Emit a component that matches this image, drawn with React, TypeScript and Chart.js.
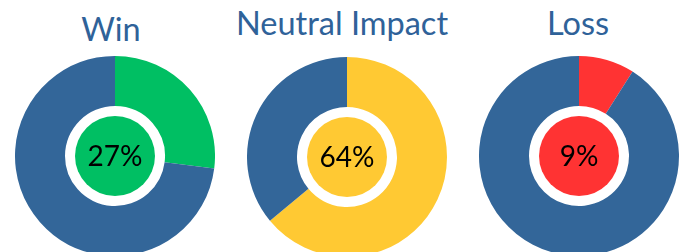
import React, { useEffect, useRef } from "react";
import { Chart, registerables } from "chart.js";

Chart.register(...registerables);

const titles = ["Win", "Neutral Impact", "Loss"];
const shares = [27, 64, 9];
const rests = [73, 36, 91];
const accentColors = ["#00bf63", "#ffc933", "#ff3333"];
const restColor = "#336699";

const centers = [
  { x: 115, y: 156 },
  { x: 347, y: 157 },
  { x: 579, y: 156 },
];
const titlePos = [
  { x: 111, top: 12 },
  { x: 342, top: 6 },
  { x: 578, top: 6 },
];

const centerPlugin = {
  id: "centerCircle",
  afterDatasetsDraw(chart: any) {
    const meta = chart.getDatasetMeta(0);
    const arc = meta.data[0];
    if (!arc) return;
    const { x, y, innerRadius } = arc.getProps(["x", "y", "innerRadius"], true);
    const opts = chart.options.plugins.centerCircle;
    const ctx = chart.ctx;
    ctx.save();
    ctx.beginPath();
    ctx.arc(x, y, innerRadius * 0.8, 0, Math.PI * 2);
    ctx.fillStyle = opts.color;
    ctx.fill();
    ctx.fillStyle = "#000";
    ctx.font = "28px Lato";
    ctx.textAlign = "center";
    ctx.textBaseline = "middle";
    ctx.fillText(opts.text, x, y + 1);
    ctx.restore();
  },
};

function Donut({ idx }: { idx: number }) {
  const ref = useRef<HTMLCanvasElement>(null);
  useEffect(() => {
    if (!ref.current) return;
    const chart = new Chart(ref.current, {
      type: "doughnut",
      data: {
        labels: [titles[idx], "Other"],
        datasets: [
          {
            data: [shares[idx], rests[idx]],
            backgroundColor: [accentColors[idx], restColor],
            borderWidth: 0,
            hoverOffset: 0,
          },
        ],
      },
      options: {
        responsive: false,
        animation: false,
        cutout: "50%",
        layout: { padding: 0 },
        plugins: {
          legend: { display: false },
          tooltip: { enabled: false },
          centerCircle: { color: accentColors[idx], text: shares[idx] + "%" },
        } as any,
        events: [],
      },
      plugins: [centerPlugin],
    });
    return () => chart.destroy();
  }, [idx]);
  const c = centers[idx];
  return (
    <canvas
      ref={ref}
      width={200}
      height={200}
      style={{ position: "absolute", left: c.x - 100, top: c.y - 100, width: 200, height: 200 }}
    />
  );
}

export default function App() {
  return (
    <div
      style={{
        position: "fixed",
        left: 0,
        top: 0,
        width: 681,
        height: 252,
        overflow: "hidden",
        background: "#fff",
      }}
    >
      {titles.map((t, i) => (
        <div
          key={t}
          style={{
            position: "absolute",
            left: titlePos[i].x - 150,
            top: titlePos[i].top,
            width: 300,
            textAlign: "center",
            fontFamily: "Lato",
            fontSize: 32.5,
            lineHeight: "34px",
            color: "#2f6299",
            whiteSpace: "nowrap",
          }}
        >
          {t}
        </div>
      ))}
      {[0, 1, 2].map((i) => (
        <Donut key={i} idx={i} />
      ))}
    </div>
  );
}
